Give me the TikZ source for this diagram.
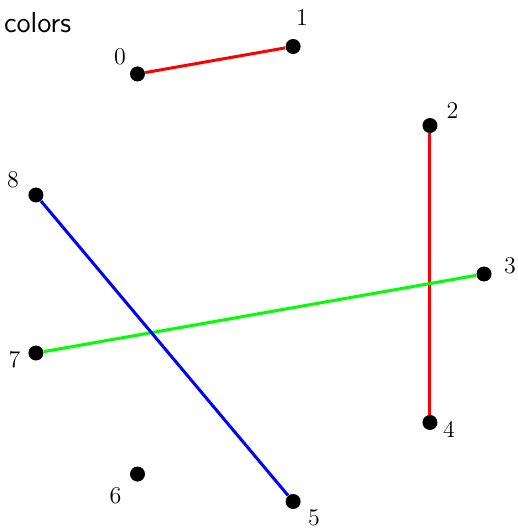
\documentclass[tikz,border=0pt]{standalone}
\usepackage{xcolor}
\usetikzlibrary{math, calc}
\definecolor{myred}{RGB}{255,0,0}
\definecolor{mygreen}{RGB}{0,255,0}
\definecolor{myblue}{RGB}{0,0,255}

\begin{document}
\begin{tikzpicture}[scale=1,
  dot/.style={circle, fill=black, inner sep=0pt, minimum size=7.5pt},
  lbl/.style={font=\fontsize{13}{15}\selectfont},
  edge/.style={line width=1.5pt}]
\tikzmath{
\R=115.5;
}
\useasboundingbox (-126.5pt,-127.5pt) rectangle (132.5pt,137pt);

\node[anchor=west, font=\sffamily\Large] (title) at (-128pt,125.5pt) {colors};

\node[dot] (p0) at (120:\R pt) {};
\node[dot] (p1) at (80:\R pt) {};
\node[dot] (p2) at (40:\R pt) {};
\node[dot] (p3) at (0:\R pt) {};
\node[dot] (p4) at (-40:\R pt) {};
\node[dot] (p5) at (-80:\R pt) {};
\node[dot] (p6) at (-120:\R pt) {};
\node[dot] (p7) at (-160:\R pt) {};
\node[dot] (p8) at (160:\R pt) {};

\node[lbl] (l0) at ($(p0)+(-8.75pt,8.5pt)$) {$0$};
\node[lbl] (l1) at ($(p1)+(4.5pt,14.5pt)$) {$1$};
\node[lbl] (l2) at ($(p2)+(11.25pt,7.5pt)$) {$2$};
\node[lbl] (l3) at ($(p3)+(13pt,4pt)$) {$3$};
\node[lbl] (l4) at ($(p4)+(9.5pt,-3.5pt)$) {$4$};
\node[lbl] (l5) at ($(p5)+(10.5pt,-8pt)$) {$5$};
\node[lbl] (l6) at ($(p6)+(-11pt,-11pt)$) {$6$};
\node[lbl] (l7) at ($(p7)+(-10.75pt,-3.25pt)$) {$7$};
\node[lbl] (l8) at ($(p8)+(-11.5pt,7.5pt)$) {$8$};

\draw[edge, myred] (p0) -- (p1);
\draw[edge, myred] (p2) -- (p4);
\draw[edge, mygreen] (p3) -- (p7);
\draw[edge, myblue] (p8) -- (p5);

\end{tikzpicture}
\end{document}
